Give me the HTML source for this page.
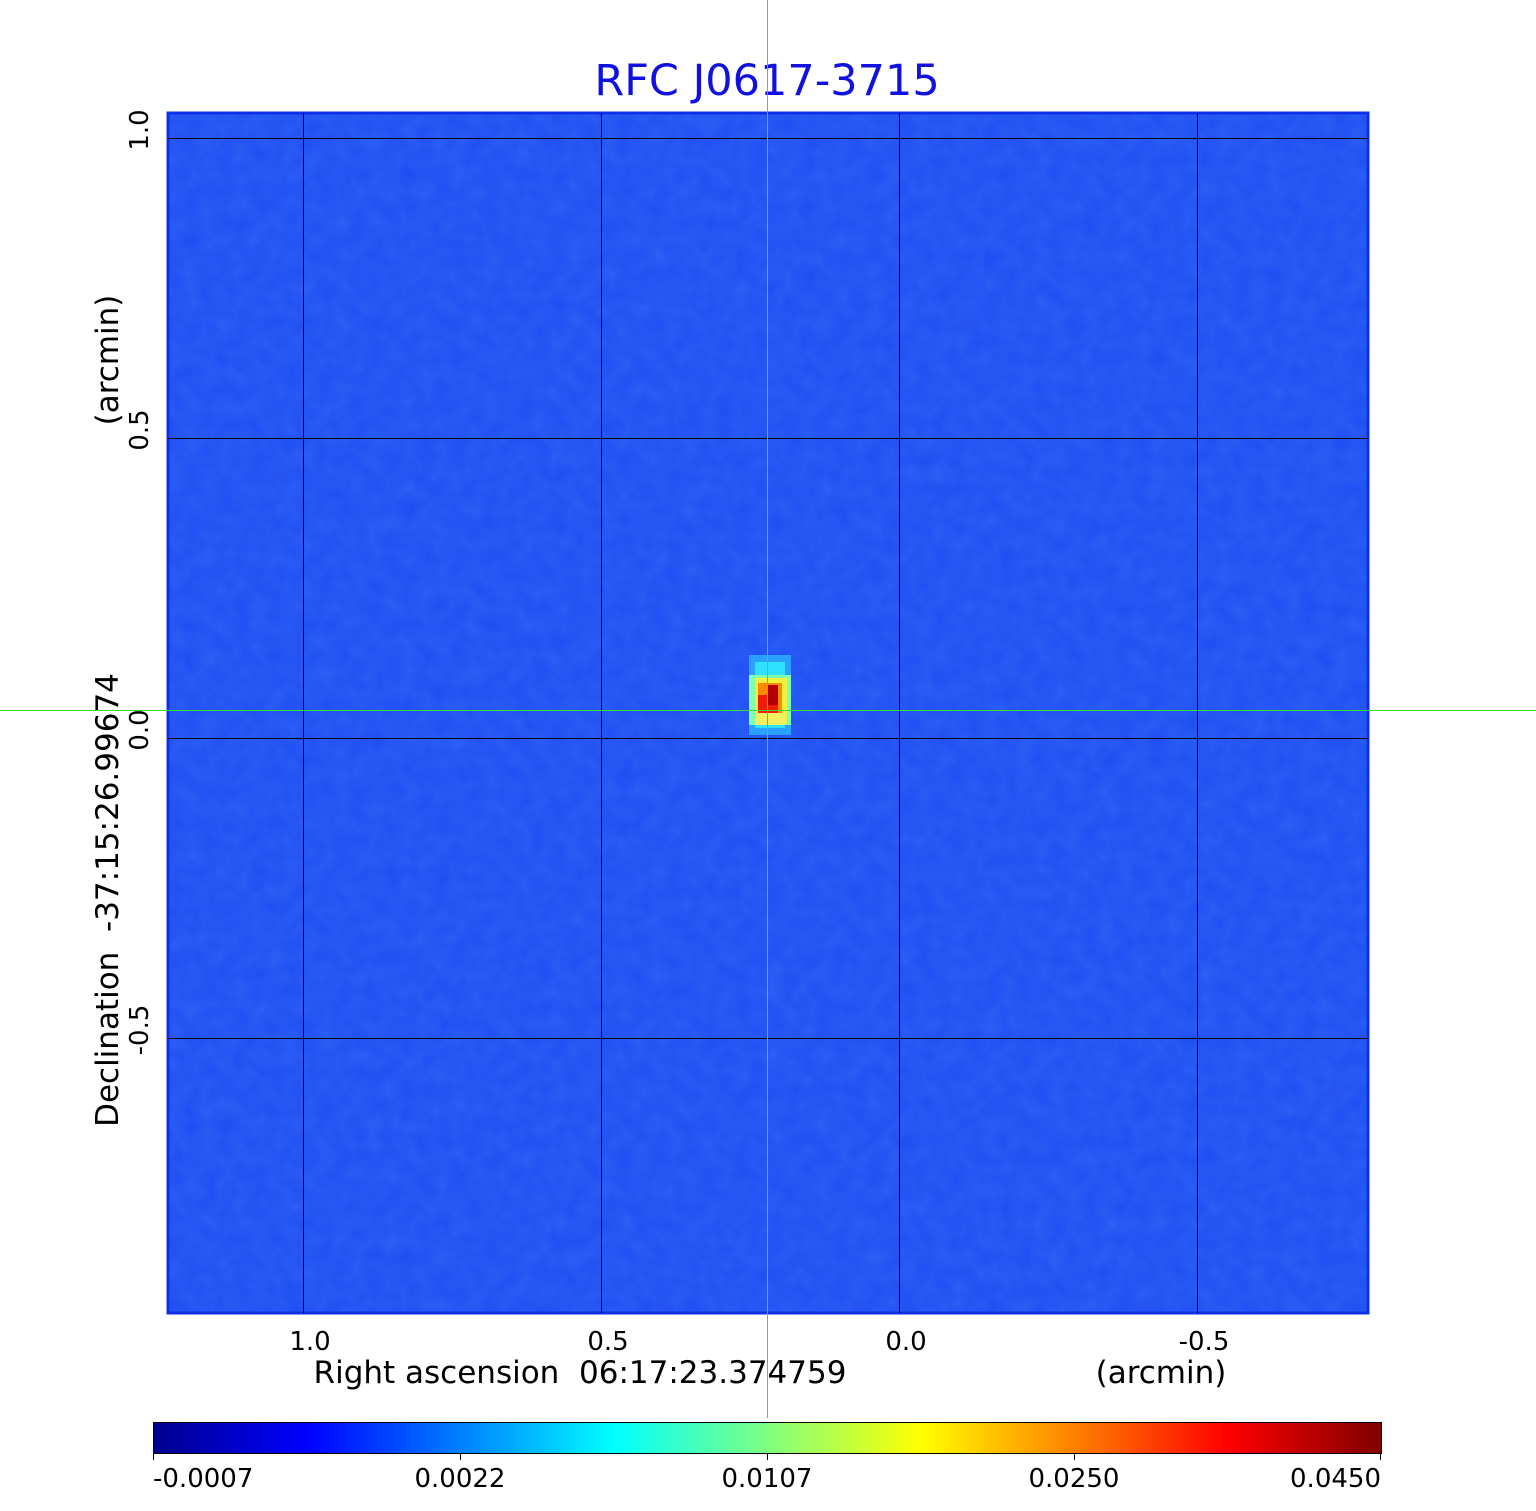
<!DOCTYPE html>
<html><head><style>
body{margin:0;background:#fff;}
svg{display:block;font-family:"DejaVu Sans","Liberation Sans",sans-serif;}
text{white-space:pre;}
</style></head><body>
<svg width="1536" height="1511" viewBox="0 0 1536 1511">
<defs>
<linearGradient id="jet" x1="0" x2="1" y1="0" y2="0">
<stop offset="0" stop-color="#00008f"/>
<stop offset="0.125" stop-color="#0000ff"/>
<stop offset="0.375" stop-color="#00ffff"/>
<stop offset="0.625" stop-color="#ffff00"/>
<stop offset="0.875" stop-color="#ff0000"/>
<stop offset="1" stop-color="#800000"/>
</linearGradient>
<filter id="noise" x="0" y="0" width="1" height="1">
<feTurbulence type="fractalNoise" baseFrequency="0.06" numOctaves="2" seed="3"/>
<feColorMatrix values="0 0 0 0 0.1  0 0 0 0 0.35  0 0 0 0 1  0 0 0 0.25 0"/>
<feComposite in2="SourceGraphic" operator="in"/>
</filter>
</defs>
<text x="767" y="95" text-anchor="middle" font-size="43" fill="#1010e0">RFC J0617-3715</text>
<rect x="168" y="113" width="1200" height="1200" fill="#1e4cf2"/>
<rect x="168" y="113" width="1200" height="1200" fill="#fff" filter="url(#noise)"/>
<!-- source -->
<rect x="749" y="655" width="42" height="80" fill="#2aa0ff"/>
<rect x="755" y="662" width="30" height="66" fill="#30e0ff"/>
<rect x="749" y="675" width="42" height="50" fill="#7fffb0"/>
<rect x="755" y="678" width="32" height="46" fill="#f0f040"/>
<rect x="758" y="683" width="24" height="32" fill="#ff8800"/>
<rect x="758" y="695" width="20" height="18" fill="#ee1c00"/>
<rect x="768" y="685" width="10" height="20" fill="#b00000"/>
<rect x="755" y="713" width="30" height="12" fill="#f0f060"/>
<rect x="168" y="113" width="1200" height="1200" fill="none" stroke="#1030e8" stroke-width="3"/>
<g fill="#000">
<rect x="303" y="113" width="1" height="1200"/>
<rect x="601" y="113" width="1" height="1200"/>
<rect x="899" y="113" width="1" height="1200"/>
<rect x="1197" y="113" width="1" height="1200"/>
<rect x="168" y="138" width="1200" height="1"/>
<rect x="168" y="438" width="1200" height="1"/>
<rect x="168" y="738" width="1200" height="1"/>
<rect x="168" y="1038" width="1200" height="1"/>
</g>
<g fill="#33dd33">
<rect x="767" y="0" width="1" height="1418"/>
<rect x="0" y="710" width="1536" height="1"/>
</g>
<g font-size="26" fill="#000" text-anchor="middle">
<text x="310" y="1350">1.0</text>
<text x="608" y="1350">0.5</text>
<text x="906" y="1350">0.0</text>
<text x="1204" y="1350">-0.5</text>
<text x="580" y="1383" font-size="31">Right ascension  06:17:23.374759</text>
<text x="1161" y="1383" font-size="31">(arcmin)</text>
</g>
<g font-size="26" fill="#000" text-anchor="middle">
<text transform="translate(148,130) rotate(-90)">1.0</text>
<text transform="translate(148,430) rotate(-90)">0.5</text>
<text transform="translate(148,730) rotate(-90)">0.0</text>
<text transform="translate(148,1030) rotate(-90)">-0.5</text>
<text transform="translate(118,360) rotate(-90)" font-size="31">(arcmin)</text>
<text transform="translate(118,900) rotate(-90)" font-size="31">Declination  -37:15:26.99674</text>
</g>
<rect x="153.5" y="1422.5" width="1228" height="31" fill="url(#jet)" stroke="#000" stroke-width="1"/>
<g fill="#000"><rect x="153" y="1453" width="1" height="7"/><rect x="460" y="1453" width="1" height="7"/><rect x="767" y="1453" width="1" height="7"/><rect x="1074" y="1453" width="1" height="7"/><rect x="1380" y="1453" width="1" height="7"/></g>
<g font-size="26" fill="#000">
<text x="153" y="1487">-0.0007</text>
<text x="460" y="1487" text-anchor="middle">0.0022</text>
<text x="767" y="1487" text-anchor="middle">0.0107</text>
<text x="1074" y="1487" text-anchor="middle">0.0250</text>
<text x="1381" y="1487" text-anchor="end">0.0450</text>
</g>
</svg>
</body></html>
